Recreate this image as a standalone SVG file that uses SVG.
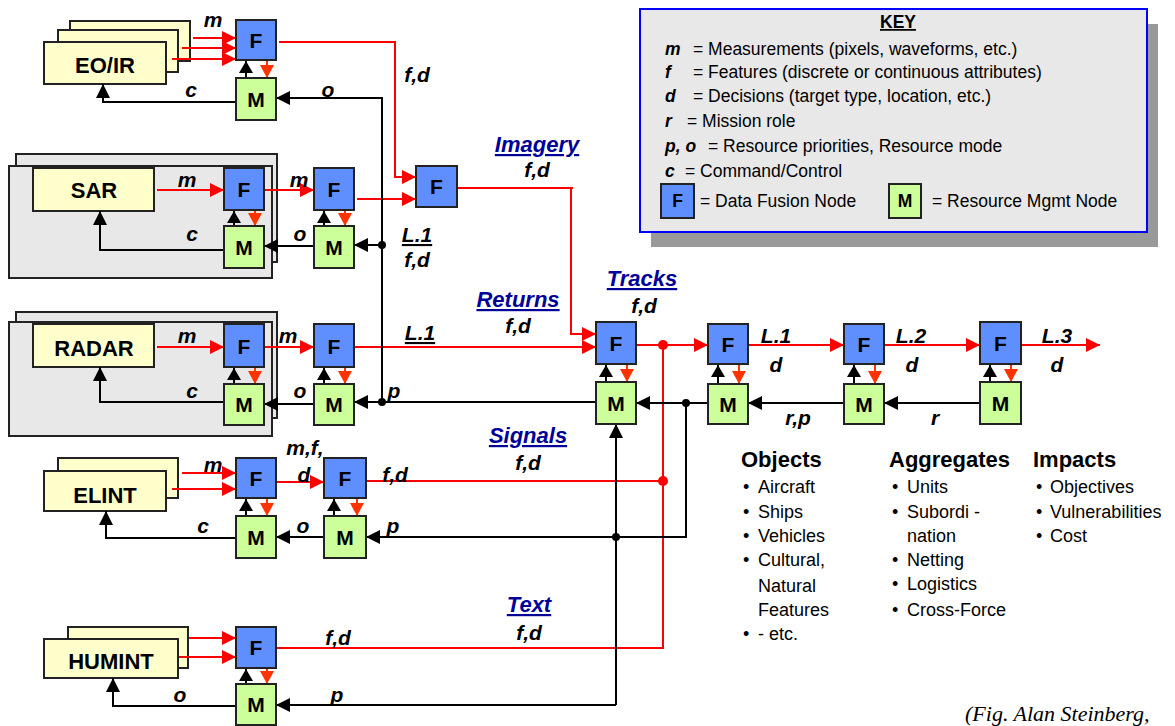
<svg xmlns="http://www.w3.org/2000/svg" width="1175" height="726" viewBox="0 0 1175 726">
<style>
text{font-family:"Liberation Sans",Arial,sans-serif;}
.F{fill:#5f8fff;stroke:#222;stroke-width:2;}
.M{fill:#ccff99;stroke:#222;stroke-width:2;}
.Y{fill:#ffffcc;stroke:#222;stroke-width:2;}
.G{fill:#e8e8e8;stroke:#222;stroke-width:2;}
.nt{font-size:21px;font-weight:bold;text-anchor:middle;fill:#000;}
.st{font-size:22px;font-weight:bold;text-anchor:middle;fill:#000;}
.lb{font-size:21px;font-weight:bold;font-style:italic;text-anchor:middle;fill:#000;}
.bl{font-size:22px;font-weight:bold;font-style:italic;text-anchor:middle;fill:#000099;text-decoration:underline;}
.ul{text-decoration:underline;}
.red{fill:none;stroke:#ff0000;stroke-width:2;}
.blk{fill:none;stroke:#000;stroke-width:2;}
.org{fill:none;stroke:#ff3300;stroke-width:2;}
.ar{marker-end:url(#aR);}
.ab{marker-end:url(#aB);}
.ao{marker-end:url(#aO);}
.abs{marker-end:url(#aBs);}
.k{font-size:17.5px;fill:#000;}
.kb{font-size:17.5px;font-weight:bold;font-style:italic;fill:#000;}
.hd{font-size:22px;font-weight:bold;fill:#000;}
.li{font-size:18px;fill:#000;}
</style>
<defs>
<marker id="aR" markerUnits="userSpaceOnUse" markerWidth="14" markerHeight="14" refX="14" refY="7" orient="auto"><path d="M0,0 L14,7 L0,14 z" fill="#ff0000"/></marker>
<marker id="aB" markerUnits="userSpaceOnUse" markerWidth="14" markerHeight="14" refX="14" refY="7" orient="auto"><path d="M0,0 L14,7 L0,14 z" fill="#000"/></marker>
<marker id="aO" markerUnits="userSpaceOnUse" markerWidth="13" markerHeight="14" refX="13" refY="7" orient="auto"><path d="M0,0 L13,7 L0,14 z" fill="#ff3300"/></marker>
<marker id="aBs" markerUnits="userSpaceOnUse" markerWidth="14" markerHeight="14" refX="12" refY="7" orient="auto"><path d="M0,0 L12,7 L0,14 z" fill="#000"/></marker>
</defs>
<rect width="1175" height="726" fill="#fff"/>

<!-- Key -->
<g id="key">
<rect x="651" y="24" width="507" height="223" fill="#999"/>
<rect x="640" y="9" width="507" height="223" fill="#e8e8e8" stroke="#0000ff" stroke-width="2"/>
<text x="898" y="28" text-anchor="middle" class="k ul" font-weight="bold">KEY</text>
<text x="665" y="55" class="kb">m</text><text x="693" y="55" class="k">= Measurements (pixels, waveforms, etc.)</text>
<text x="665" y="78" class="kb">f</text><text x="693" y="78" class="k">= Features (discrete or continuous attributes)</text>
<text x="665" y="102" class="kb">d</text><text x="693" y="102" class="k">= Decisions (target type, location, etc.)</text>
<text x="665" y="127" class="kb">r</text><text x="687" y="127" class="k">= Mission role</text>
<text x="665" y="152" class="kb">p, o</text><text x="708" y="152" class="k">= Resource priorities, Resource mode</text>
<text x="665" y="177" class="kb">c</text><text x="685" y="177" class="k">= Command/Control</text>
<rect x="661" y="184" width="33" height="34" class="F"/><text x="677.5" y="207" text-anchor="middle" class="k" font-weight="bold">F</text>
<text x="700" y="207" class="k">= Data Fusion Node</text>
<rect x="889" y="184" width="32" height="34" class="M"/><text x="905" y="207" text-anchor="middle" class="k" font-weight="bold">M</text>
<text x="932" y="207" class="k">= Resource Mgmt Node</text>
</g>

<!-- Sensor groups -->
<g id="eoir">
<rect x="70" y="21" width="120" height="40" class="Y"/>
<rect x="58" y="30" width="120" height="42" class="Y"/>
<rect x="44" y="42" width="122" height="42" class="Y"/>
<text x="105" y="73" class="st">EO/IR</text>
</g>
<g id="sar">
<rect x="16" y="154" width="261" height="108" class="G"/>
<rect x="9" y="166" width="263" height="112" class="G"/>
<rect x="33" y="168" width="121" height="43" class="Y"/>
<text x="94" y="198" class="st">SAR</text>
</g>
<g id="radar">
<rect x="16" y="312" width="261" height="106" class="G"/>
<rect x="9" y="322" width="263" height="114" class="G"/>
<rect x="33" y="324" width="121" height="43" class="Y"/>
<text x="94" y="356" class="st">RADAR</text>
</g>
<g id="elint">
<rect x="58" y="458" width="120" height="40" class="Y"/>
<rect x="44" y="471" width="122" height="40" class="Y"/>
<text x="105" y="503" class="st">ELINT</text>
</g>
<g id="humint">
<rect x="68" y="627" width="120" height="41" class="Y"/>
<rect x="44" y="639" width="134" height="39" class="Y"/>
<text x="111" y="669" class="st">HUMINT</text>
</g>

<!-- Connectors -->
<g id="connectors">
<path d="M193,38 L236,38" class="red ar"/>
<path d="M182,48 L236,48" class="red ar"/>
<path d="M172,59 L236,59" class="red ar"/>
<path d="M279,42 L395,42 L395,177 L416,177" class="red ar"/>
<path d="M157,190 L224,190" class="red ar"/>
<path d="M264,190 L314,190" class="red ar"/>
<path d="M357,199 L416,199" class="red ar"/>
<path d="M457,188 L573,188 M571,188 L571,334 L596,334" class="red ar"/>
<path d="M157,347 L224,347" class="red ar"/>
<path d="M264,347 L314,347" class="red ar"/>
<path d="M354,347 L596,347" class="red ar"/>
<path d="M636,345 L708,345" class="red ar"/>
<path d="M748,345 L844,345" class="red ar"/>
<path d="M884,345 L980,345" class="red ar"/>
<path d="M1021,345 L1100,345" class="red ar"/>
<path d="M663,345 L663,648 L276,648" class="red"/>
<path d="M182,473 L236,473" class="red ar"/>
<path d="M172,489 L236,489" class="red ar"/>
<path d="M276,482 L324,482" class="red ar"/>
<path d="M366,481 L663,481" class="red"/>
<path d="M189,638 L236,638" class="red ar"/>
<path d="M179,657 L236,657" class="red ar"/>
<circle cx="663" cy="345" r="5" fill="#ff0000"/>
<circle cx="663" cy="481" r="5" fill="#ff0000"/>
<path d="M267,60 L267,78" class="org ao"/><path d="M246,78 L246,61" class="blk abs"/>
<path d="M255,210 L255,226" class="org ao"/><path d="M234,226 L234,211" class="blk abs"/>
<path d="M345,210 L345,226" class="org ao"/><path d="M324,226 L324,211" class="blk abs"/>
<path d="M255,367 L255,384" class="org ao"/><path d="M234,384 L234,368" class="blk abs"/>
<path d="M345,367 L345,384" class="org ao"/><path d="M324,384 L324,368" class="blk abs"/>
<path d="M267,498 L267,516" class="org ao"/><path d="M246,516 L246,499" class="blk abs"/>
<path d="M357,498 L357,516" class="org ao"/><path d="M334,516 L334,499" class="blk abs"/>
<path d="M267,668 L267,684" class="org ao"/><path d="M246,684 L246,669" class="blk abs"/>
<path d="M627,364 L627,382" class="org ao"/><path d="M606,382 L606,365" class="blk abs"/>
<path d="M739,364 L739,384" class="org ao"/><path d="M718,384 L718,365" class="blk abs"/>
<path d="M875,364 L875,384" class="org ao"/><path d="M854,384 L854,365" class="blk abs"/>
<path d="M1011,364 L1011,382" class="org ao"/><path d="M990,382 L990,365" class="blk abs"/>
<path d="M236,102 L103,102 L103,84" class="blk ab"/>
<path d="M382,402 L382,98 L276,98" class="blk ab"/>
<path d="M224,250 L100,250 L100,211" class="blk ab"/>
<path d="M314,246 L264,246" class="blk ab"/>
<path d="M382,245 L354,245" class="blk ab"/>
<path d="M224,402 L100,402 L100,367" class="blk ab"/>
<path d="M314,404 L264,404" class="blk ab"/>
<path d="M596,402 L354,402" class="blk ab"/>
<path d="M708,403 L636,403" class="blk ab"/>
<path d="M844,403 L748,403" class="blk ab"/>
<path d="M980,403 L884,403" class="blk ab"/>
<path d="M686,403 L686,537 L366,537" class="blk ab"/>
<path d="M616,705 L616,424" class="blk ab"/>
<path d="M616,705 L276,705" class="blk ab"/>
<path d="M236,538 L106,538 L106,511" class="blk ab"/>
<path d="M324,537 L276,537" class="blk ab"/>
<path d="M236,706 L113,706 L113,678" class="blk ab"/>
<circle cx="382" cy="245" r="4" fill="#000"/>
<circle cx="382" cy="402" r="4" fill="#000"/>
<circle cx="686" cy="403" r="4" fill="#000"/>
<circle cx="616" cy="537" r="4" fill="#000"/>
<text x="213" y="27" class="lb">m</text>
<text x="191" y="97" class="lb">c</text>
<text x="328" y="97" class="lb">o</text>
<text x="417" y="82" class="lb">f,d</text>
<text x="187" y="187" class="lb">m</text>
<text x="299" y="187" class="lb">m</text>
<text x="192" y="241" class="lb">c</text>
<text x="300" y="241" class="lb">o</text>
<text x="417" y="242" class="lb ul">L.1</text>
<text x="417" y="267" class="lb">f,d</text>
<text x="187" y="343" class="lb">m</text>
<text x="288" y="343" class="lb">m</text>
<text x="192" y="398" class="lb">c</text>
<text x="300" y="398" class="lb">o</text>
<text x="394" y="398" class="lb">p</text>
<text x="420" y="340" class="lb ul">L.1</text>
<text x="537" y="152" class="bl">Imagery</text>
<text x="537" y="177" class="lb">f,d</text>
<text x="518" y="307" class="bl">Returns</text>
<text x="518" y="333" class="lb">f,d</text>
<text x="642" y="286" class="bl">Tracks</text>
<text x="644" y="313" class="lb">f,d</text>
<text x="776" y="343" class="lb">L.1</text>
<text x="776" y="372" class="lb">d</text>
<text x="911" y="343" class="lb">L.2</text>
<text x="912" y="372" class="lb">d</text>
<text x="1057" y="343" class="lb">L.3</text>
<text x="1057" y="372" class="lb">d</text>
<text x="798" y="425" class="lb">r,p</text>
<text x="935" y="425" class="lb">r</text>
<text x="528" y="443" class="bl">Signals</text>
<text x="528" y="470" class="lb">f,d</text>
<text x="213" y="472" class="lb">m</text>
<text x="305" y="455" class="lb">m,f,</text>
<text x="304" y="482" class="lb">d</text>
<text x="395" y="482" class="lb">f,d</text>
<text x="203" y="533" class="lb">c</text>
<text x="303" y="533" class="lb">o</text>
<text x="393" y="533" class="lb">p</text>
<text x="529" y="612" class="bl">Text</text>
<text x="529" y="640" class="lb">f,d</text>
<text x="338" y="645" class="lb">f,d</text>
<text x="180" y="702" class="lb">o</text>
<text x="337" y="702" class="lb">p</text>
</g>

<!-- F / M nodes -->
<g id="F_eo"><rect x="236" y="20" width="40" height="40" class="F"/><text x="256" y="48" class="nt">F</text></g>
<g id="M_eo"><rect x="236" y="78" width="40" height="42" class="M"/><text x="256" y="107" class="nt">M</text></g>
<g id="F_sar1"><rect x="224" y="168" width="40" height="42" class="F"/><text x="244" y="197" class="nt">F</text></g>
<g id="M_sar1"><rect x="224" y="226" width="40" height="42" class="M"/><text x="244" y="255" class="nt">M</text></g>
<g id="F_sar2"><rect x="314" y="168" width="40" height="42" class="F"/><text x="334" y="197" class="nt">F</text></g>
<g id="M_sar2"><rect x="314" y="226" width="40" height="42" class="M"/><text x="334" y="255" class="nt">M</text></g>
<g id="F_img"><rect x="416" y="166" width="41" height="41" class="F"/><text x="436.5" y="194" class="nt">F</text></g>
<g id="F_rad1"><rect x="224" y="324" width="40" height="43" class="F"/><text x="244" y="354" class="nt">F</text></g>
<g id="M_rad1"><rect x="224" y="384" width="40" height="41" class="M"/><text x="244" y="412" class="nt">M</text></g>
<g id="F_rad2"><rect x="314" y="324" width="40" height="43" class="F"/><text x="334" y="354" class="nt">F</text></g>
<g id="M_rad2"><rect x="314" y="384" width="40" height="41" class="M"/><text x="334" y="412" class="nt">M</text></g>
<g id="F_el1"><rect x="236" y="458" width="40" height="40" class="F"/><text x="256" y="486" class="nt">F</text></g>
<g id="M_el1"><rect x="236" y="516" width="40" height="42" class="M"/><text x="256" y="545" class="nt">M</text></g>
<g id="F_el2"><rect x="324" y="458" width="42" height="40" class="F"/><text x="345" y="486" class="nt">F</text></g>
<g id="M_el2"><rect x="324" y="516" width="42" height="42" class="M"/><text x="345" y="545" class="nt">M</text></g>
<g id="F_hu"><rect x="236" y="627" width="40" height="41" class="F"/><text x="256" y="655" class="nt">F</text></g>
<g id="M_hu"><rect x="236" y="684" width="40" height="41" class="M"/><text x="256" y="712" class="nt">M</text></g>
<g id="F_trk"><rect x="596" y="322" width="40" height="42" class="F"/><text x="616" y="351" class="nt">F</text></g>
<g id="M_trk"><rect x="596" y="382" width="40" height="42" class="M"/><text x="616" y="411" class="nt">M</text></g>
<g id="F_L1"><rect x="708" y="324" width="40" height="40" class="F"/><text x="728" y="352" class="nt">F</text></g>
<g id="M_L1"><rect x="708" y="384" width="40" height="40" class="M"/><text x="728" y="412" class="nt">M</text></g>
<g id="F_L2"><rect x="844" y="324" width="40" height="40" class="F"/><text x="864" y="352" class="nt">F</text></g>
<g id="M_L2"><rect x="844" y="384" width="40" height="40" class="M"/><text x="864" y="412" class="nt">M</text></g>
<g id="F_L3"><rect x="980" y="322" width="41" height="42" class="F"/><text x="1000.5" y="351" class="nt">F</text></g>
<g id="M_L3"><rect x="980" y="382" width="41" height="42" class="M"/><text x="1000.5" y="411" class="nt">M</text></g>

<!-- Lists -->
<g id="lists">
<text x="741" y="467" class="hd">Objects</text>
<text x="743" y="493" class="li">•</text><text x="758" y="493" class="li">Aircraft</text>
<text x="743" y="518" class="li">•</text><text x="758" y="518" class="li">Ships</text>
<text x="743" y="542" class="li">•</text><text x="758" y="542" class="li">Vehicles</text>
<text x="743" y="566" class="li">•</text><text x="758" y="566" class="li">Cultural,</text>
<text x="758" y="592" class="li">Natural</text>
<text x="758" y="616" class="li">Features</text>
<text x="743" y="640" class="li">•</text><text x="758" y="640" class="li">- etc.</text>
<text x="889" y="467" class="hd">Aggregates</text>
<text x="892" y="493" class="li">•</text><text x="907" y="493" class="li">Units</text>
<text x="892" y="518" class="li">•</text><text x="907" y="518" class="li">Subordi -</text>
<text x="907" y="542" class="li">nation</text>
<text x="892" y="566" class="li">•</text><text x="907" y="566" class="li">Netting</text>
<text x="892" y="590" class="li">•</text><text x="907" y="590" class="li">Logistics</text>
<text x="892" y="616" class="li">•</text><text x="907" y="616" class="li">Cross-Force</text>
<text x="1033" y="467" class="hd">Impacts</text>
<text x="1036" y="493" class="li">•</text><text x="1050" y="493" class="li">Objectives</text>
<text x="1036" y="518" class="li">•</text><text x="1050" y="518" class="li">Vulnerabilities</text>
<text x="1036" y="542" class="li">•</text><text x="1050" y="542" class="li">Cost</text>
</g>
<text x="965" y="721" style="font-family:'Liberation Serif','Times New Roman',serif;font-style:italic;font-size:22px;">(Fig. Alan Steinberg,</text>
</svg>
